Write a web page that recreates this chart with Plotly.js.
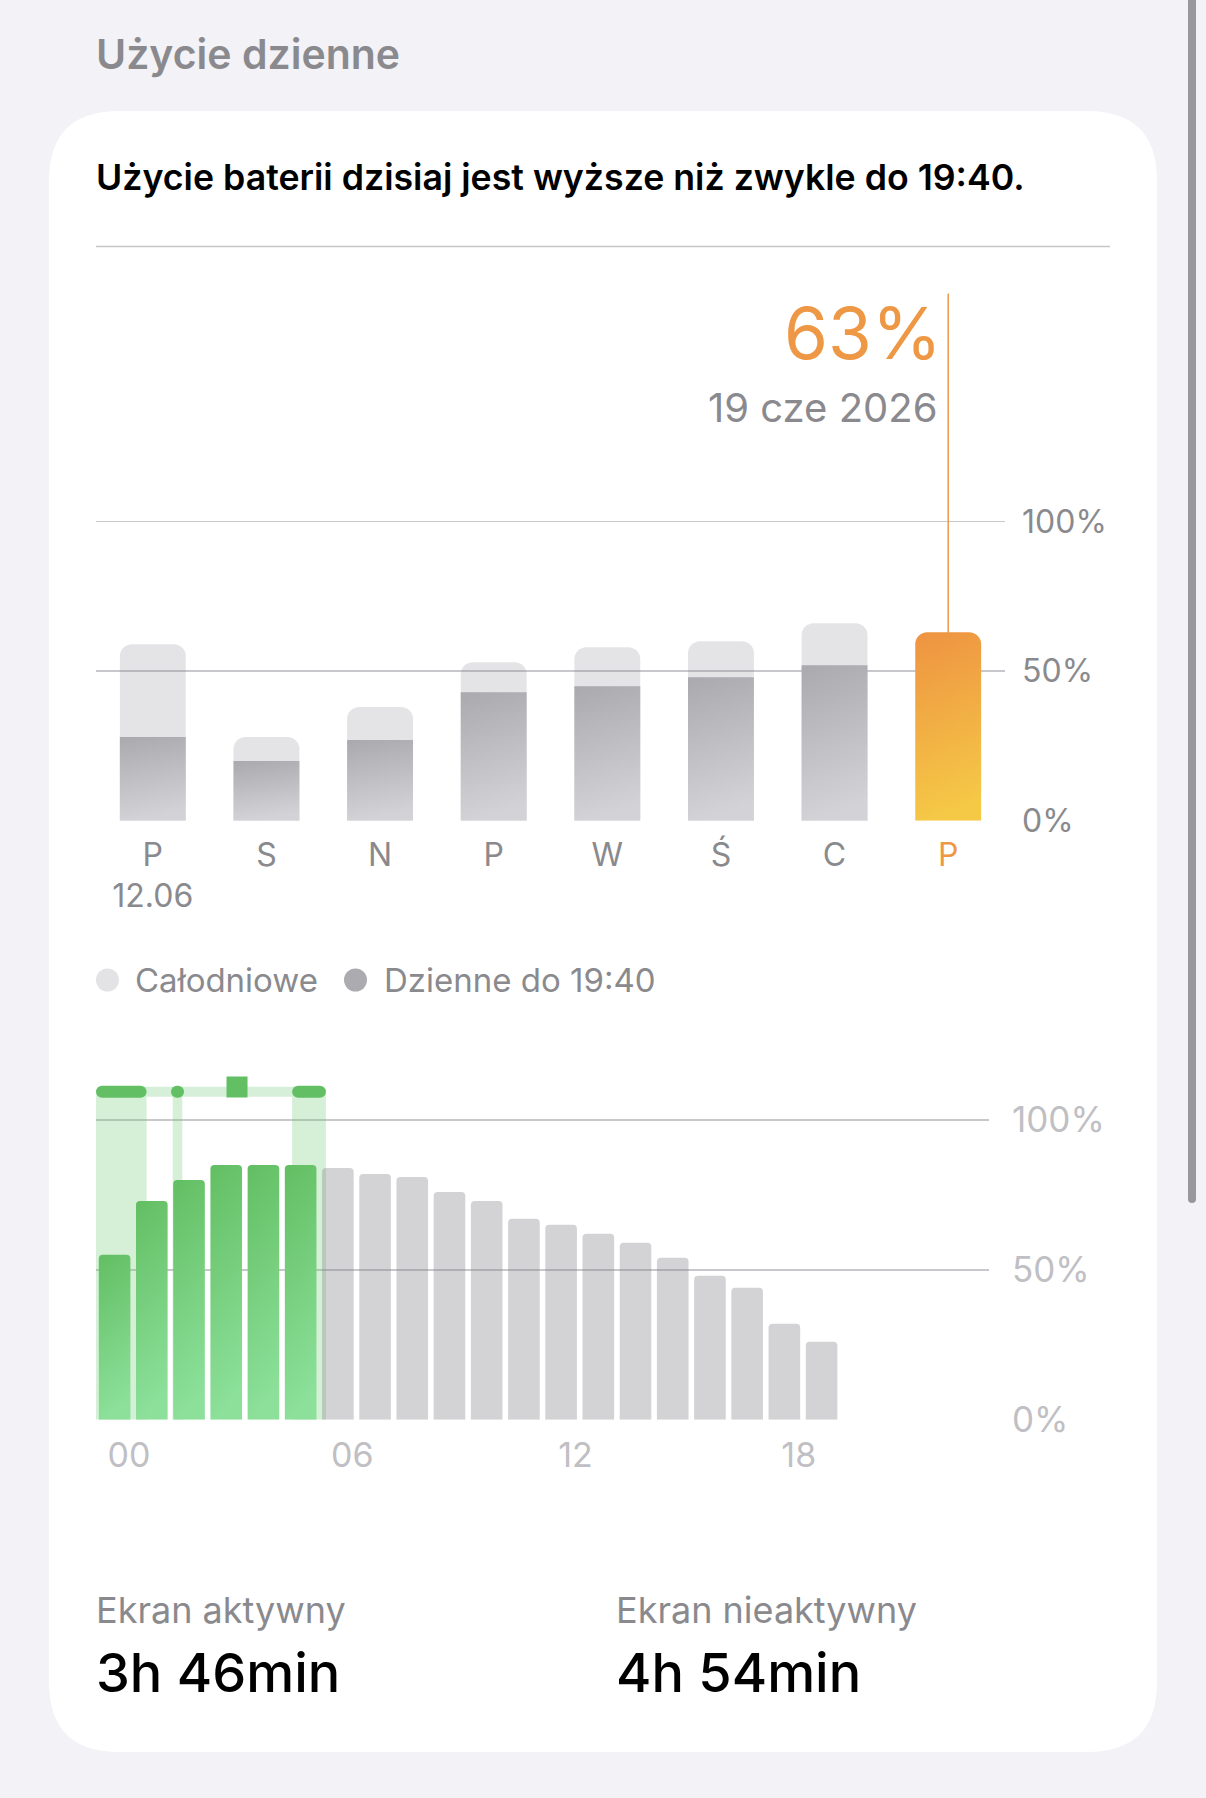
<!DOCTYPE html>
<html><head><meta charset="utf-8">
<script src="https://cdn.plot.ly/plotly-3.0.1.min.js"></script>
<style>html,body{margin:0;padding:0;background:#F2F2F7;}#chart{width:1206px;height:1798px;}</style>
</head><body><div id="chart"></div>
<script>
// ---------- data ----------
const dayLabels = ['P','S','N','P','W','Ś','C','P'];
const firstDayDate = '12.06';
const fullDayUse = [59, 28, 38, 53, 58, 60, 66, null];      // Całodniowe
const useUntil1940 = [28, 20, 27, 43, 45, 48, 52, 63];      // Dzienne do 19:40
const todayIndex = 7;
const todayValueText = '63%';
const todayDateText = '19 cze 2026';
const legendNames = ['Całodniowe', 'Dzienne do 19:40'];

const percentTicks = [0, 50, 100];
const percentTickText = ['0%', '50%', '100%'];

const hourTickVals = [0, 6, 12, 18];
const hourTickText = ['00', '06', '12', '18'];
const batteryLevel = [55, 73, 80, 85, 85, 85, 84, 82, 81, 76, 73, 67, 65, 62, 59, 54, 48, 44, 32, 26];
const charging =     [1, 1, 1, 1, 1, 1, 0, 0, 0, 0, 0, 0, 0, 0, 0, 0, 0, 0, 0, 0];
const activeStart = [0, 2.06, 5.27];   // hours
const activeEnd   = [1.36, 2.32, 6.18];
const eventStart = [3.49];
const eventEnd   = [4.09];
const trackStart = 0, trackEnd = 6.18;

const headerTitle = 'Użycie dzienne';
const infoText = 'Użycie baterii dzisiaj jest wyższe niż zwykle do 19:40.';
const statLabels = ['Ekran aktywny', 'Ekran nieaktywny'];
const statValues = ['3h 46min', '4h 54min'];

// ---------- layout helpers ----------
const W = 1206, H = 1798;
const px = x => x / W, py = y => 1 - y / H;
const FONT = 'Inter, "Noto Sans", "DejaVu Sans", sans-serif';
const GRAY = '#8A8A8E', ORANGE = '#EE9845';
const GREEN = 'rgb(99,191,99)', DARKGRAY = 'rgb(171,171,176)', ORANGE_BAR = 'rgb(238,147,66)';

function rr(x0, y0, x1, y1, r) {
  return `M${px(x0 + r)},${py(y0)} L${px(x1 - r)},${py(y0)} Q${px(x1)},${py(y0)} ${px(x1)},${py(y0 + r)} ` +
    `L${px(x1)},${py(y1 - r)} Q${px(x1)},${py(y1)} ${px(x1 - r)},${py(y1)} L${px(x0 + r)},${py(y1)} ` +
    `Q${px(x0)},${py(y1)} ${px(x0)},${py(y1 - r)} L${px(x0)},${py(y0 + r)} Q${px(x0)},${py(y0)} ${px(x0 + r)},${py(y0)} Z`;
}

// bottom chart geometry
const x2L = 96, x2R = 989, hoursSpan = 24;
const pxPerHour = (x2R - x2L) / hoursSpan;
const stripLevel = 109.4;

// ---------- traces ----------
const idx = dayLabels.map((d, i) => i);
const tickTextTop = dayLabels.map((d, i) =>
  i === 0 ? d + '<br>' + firstDayDate : (i === todayIndex ? '<span style="color:' + ORANGE + '">' + d + '</span>' : d));

const traces = [];
traces.push({
  type: 'bar', x: idx, y: fullDayUse, xaxis: 'x', yaxis: 'y', width: 0.58,
  marker: { color: 'rgba(120,120,128,0.2)', cornerradius: 12, line: { width: 0 } }, hoverinfo: 'skip'
});
traces.push({
  type: 'bar', x: idx, y: useUntil1940, xaxis: 'x', yaxis: 'y', width: 0.58,
  marker: { color: idx.map(i => i === todayIndex ? ORANGE_BAR : DARKGRAY), cornerradius: 12, line: { width: 0 } },
  hoverinfo: 'skip'
});
// selection line above today's bar
traces.push({
  type: 'scatter', mode: 'lines', x: [todayIndex, todayIndex], y: [useUntil1940[todayIndex], 176],
  xaxis: 'x', yaxis: 'y', line: { color: ORANGE, width: 1.5 }, hoverinfo: 'skip'
});

// bottom: active-screen bands
traces.push({
  type: 'bar', xaxis: 'x2', yaxis: 'y2',
  x: activeStart.map((s, i) => (s + activeEnd[i]) / 2),
  width: activeStart.map((s, i) => activeEnd[i] - s),
  y: activeStart.map(() => stripLevel), base: 0,
  marker: { color: 'rgba(90,195,100,0.25)', line: { width: 0 } }, hoverinfo: 'skip'
});
// hourly battery level
traces.push({
  type: 'bar', xaxis: 'x2', yaxis: 'y2',
  x: batteryLevel.map((v, i) => i + 0.5), y: batteryLevel, width: 0.85,
  marker: { color: charging.map(c => c ? GREEN : 'rgba(120,120,128,0.33)'), cornerradius: 4, line: { width: 0 } },
  hoverinfo: 'skip'
});
// track strip
const trackW = 10, pillW = 12;
const insetT = (trackW / 2) / pxPerHour, insetP = (pillW / 2) / pxPerHour;
traces.push({
  type: 'scatter', mode: 'lines', xaxis: 'x2', yaxis: 'y2',
  x: [trackStart + insetT, trackEnd - insetT], y: [stripLevel, stripLevel],
  line: { color: '#D6EFD9', width: trackW, simplify: false }, hoverinfo: 'skip'
});
const pillX = [], pillY = [];
activeStart.forEach((s, i) => {
  let a = s + insetP, b = activeEnd[i] - insetP;
  if (b - a < 0.03) { const m = (s + activeEnd[i]) / 2; a = m - 0.015; b = m + 0.015; }
  pillX.push(a, b, null); pillY.push(stripLevel, stripLevel, null);
});
traces.push({
  type: 'scatter', mode: 'lines', xaxis: 'x2', yaxis: 'y2', x: pillX, y: pillY,
  line: { color: '#63BF63', width: pillW, simplify: false }, hoverinfo: 'skip'
});
traces.push({
  type: 'scatter', mode: 'markers', xaxis: 'x2', yaxis: 'y2',
  x: eventStart.map((s, i) => (s + eventEnd[i]) / 2), y: eventStart.map(() => 111),
  marker: { symbol: 'square', size: 21, color: '#63BF63', line: { width: 0 } }, hoverinfo: 'skip'
});

// ---------- layout ----------
const shapes = [
  { type: 'path', xref: 'paper', yref: 'paper', path: rr(49, 111, 1157, 1752, 70), fillcolor: '#FFFFFF', line: { width: 0 }, layer: 'below' },
  { type: 'path', xref: 'paper', yref: 'paper', path: rr(1188, -10, 1196, 1203, 4), fillcolor: '#98989B', line: { width: 0 }, layer: 'below' },
  { type: 'line', xref: 'paper', yref: 'paper', x0: px(96), x1: px(1110), y0: py(246.5), y1: py(246.5), line: { color: '#C6C6C8', width: 1.5 } },
  { type: 'circle', xref: 'paper', yref: 'paper', x0: px(96), x1: px(119), y0: py(968.5), y1: py(991.5), fillcolor: '#E3E3E6', line: { width: 0 } },
  { type: 'circle', xref: 'paper', yref: 'paper', x0: px(344), x1: px(367), y0: py(968.5), y1: py(991.5), fillcolor: '#ABABB0', line: { width: 0 } }
];

function ann(text, x, y, size, color, xanchor, weight) {
  return { text, x: px(x), y: py(y), xref: 'paper', yref: 'paper', showarrow: false, xanchor: xanchor || 'left', yanchor: 'middle',
    font: { family: FONT, size, color, weight: weight || 400 } };
}
const annotations = [
  ann(headerTitle, 94, 54, 41, GRAY, 'left', 600),
  ann(infoText, 94, 177, 35.7, '#000000', 'left', 600),
  ann(todayValueText, 944, 333, 71, ORANGE, 'right', 400),
  ann(todayDateText, 940, 408, 40, GRAY, 'right', 400),
  ann(legendNames[0], 133, 980, 33, GRAY, 'left', 400),
  ann(legendNames[1], 382, 980, 33, GRAY, 'left', 400),
  ann(statLabels[0], 94, 1610, 36, GRAY, 'left', 400),
  ann(statValues[0], 94, 1672, 54, '#000000', 'left', 500),
  ann(statLabels[1], 614, 1610, 36, GRAY, 'left', 400),
  ann(statValues[1], 614, 1672, 54, '#000000', 'left', 500)
];

const layout = {
  width: W, height: H, margin: { l: 0, r: 0, t: 0, b: 0, pad: 0 },
  paper_bgcolor: '#F2F2F7', plot_bgcolor: 'rgba(0,0,0,0)',
  showlegend: false, barmode: 'overlay', hovermode: false,
  font: { family: FONT, color: GRAY },
  xaxis: {
    domain: [px(96), px(1005)], range: [-0.5, 7.5], anchor: 'y', tickmode: 'array', tickvals: idx, ticktext: tickTextTop,
    showgrid: false, zeroline: false, showline: false, ticks: '', tickfont: { size: 32, color: GRAY }, ticklabelstandoff: 12, fixedrange: true
  },
  yaxis: {
    domain: [py(820.8), py(282.2)], range: [0, 180], anchor: 'x', side: 'right', tickmode: 'array', tickvals: percentTicks, ticktext: percentTickText,
    showgrid: true, gridcolor: '#C8C8CC', gridwidth: 1.5, zeroline: false, showline: false, ticks: '',
    tickfont: { size: 32, color: GRAY }, ticklabelstandoff: 16, fixedrange: true
  },
  xaxis2: {
    domain: [px(x2L), px(x2R)], range: [0, hoursSpan], anchor: 'y2', tickmode: 'array', tickvals: hourTickVals, ticktext: hourTickText,
    ticklabelshift: 33, showgrid: false, zeroline: false, showline: false, ticks: '', tickfont: { size: 34, color: '#BFBFC4' },
    ticklabelstandoff: 12, fixedrange: true
  },
  yaxis2: {
    domain: [py(1419.7), py(1072)], range: [0, 116], anchor: 'x2', side: 'right', tickmode: 'array', tickvals: percentTicks, ticktext: percentTickText,
    showgrid: true, gridcolor: '#C8C8CC', gridwidth: 1.5, zeroline: false, showline: false, ticks: '',
    tickfont: { size: 35, color: '#BFBFC4' }, ticklabelstandoff: 22, fixedrange: true
  },
  shapes, annotations
};

Plotly.newPlot('chart', traces, layout, { staticPlot: true, displayModeBar: false }).then(() => {
  const NS = 'http://www.w3.org/2000/svg';
  const svg = document.querySelector('#chart .main-svg');
  let defs = svg.querySelector('defs');
  if (!defs) { defs = document.createElementNS(NS, 'defs'); svg.insertBefore(defs, svg.firstChild); }
  function grad(id, c0, c1) {
    const g = document.createElementNS(NS, 'linearGradient');
    g.setAttribute('id', id); g.setAttribute('x1', '0'); g.setAttribute('y1', '0'); g.setAttribute('x2', '0.15'); g.setAttribute('y2', '1');
    [[0, c0], [1, c1]].forEach(([o, c]) => { const s = document.createElementNS(NS, 'stop'); s.setAttribute('offset', o); s.setAttribute('stop-color', c); g.appendChild(s); });
    defs.appendChild(g);
  }
  grad('gGray', '#A9A9AE', '#D3D3D7');
  grad('gOrange', '#EE9342', '#F5C846');
  grad('gGreen', '#62BE62', '#8CE09A');
  const map = { 'rgb(171,171,176)': 'url(#gGray)', 'rgb(238,147,66)': 'url(#gOrange)', 'rgb(99,191,99)': 'url(#gGreen)' };
  document.querySelectorAll('#chart .barlayer path').forEach(p => {
    const f = (p.style.fill || '').replace(/\s/g, '');
    if (map[f]) p.style.fill = map[f];
  });
  document.querySelectorAll('#chart .scatterlayer path.js-line').forEach(p => {
    p.style.strokeLinecap = 'round';
  });
});
</script>
</body></html>
